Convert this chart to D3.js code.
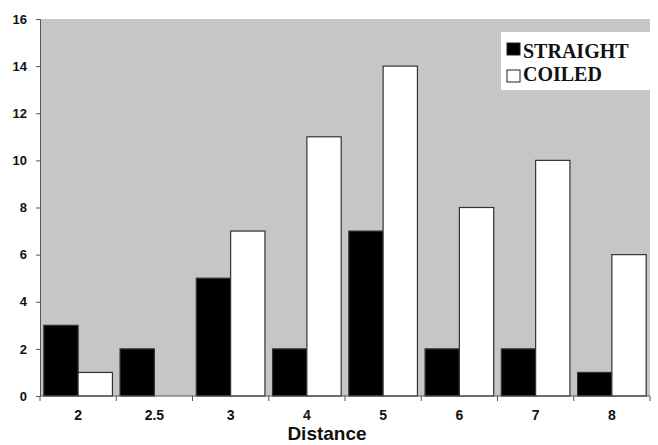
<!DOCTYPE html>
<html>
<head>
<meta charset="utf-8">
<script src="https://cdn.jsdelivr.net/npm/d3@7"></script>
<style>
body { margin: 0; background: #fff; }
</style>
</head>
<body>
<div id="chart"></div>
<script>
// chart data
var categories = ["2", "2.5", "3", "4", "5", "6", "7", "8"];
var straight = [3, 2, 5, 2, 7, 2, 2, 1];
var coiled = [1, 0, 7, 11, 14, 8, 10, 6];
var yTicks = [0, 2, 4, 6, 8, 10, 12, 14, 16];
var seriesNames = ["STRAIGHT", "COILED"];
var seriesColors = ["#000000", "#ffffff"];

var width = 658, height = 445;
var margin = {top: 19, right: 8, bottom: 49, left: 40};
var sansFont = "Liberation Sans, Arial, sans-serif";

var svg = d3.select("#chart").append("svg")
    .attr("width", width)
    .attr("height", height);

var x = d3.scaleBand()
    .domain(categories)
    .range([margin.left, width - margin.right])
    .paddingInner(0.1)
    .paddingOuter(0.05);

var x1 = d3.scaleBand()
    .domain(seriesNames)
    .range([0, x.bandwidth()]);

var y = d3.scaleLinear()
    .domain([0, 16])
    .range([height - margin.bottom, margin.top]);

// gray plot area
svg.append("rect")
    .attr("x", margin.left)
    .attr("y", margin.top)
    .attr("width", width - margin.right - margin.left)
    .attr("height", height - margin.bottom - margin.top)
    .attr("fill", "#c6c6c6");

var rows = categories.map(function(c, i) {
    return {cat: c, values: [straight[i], coiled[i]]};
});

var groups = svg.selectAll(".grp")
    .data(rows)
    .enter().append("g")
    .attr("transform", function(d) { return "translate(" + x(d.cat) + ",0)"; });

groups.selectAll("rect")
    .data(function(d) { return d.values.map(function(v, j) { return {name: seriesNames[j], value: v, j: j}; }); })
    .enter().append("rect")
    .filter(function(d) { return d.value > 0; })
    .attr("x", function(d) { return x1(d.name); })
    .attr("y", function(d) { return y(d.value); })
    .attr("width", x1.bandwidth())
    .attr("height", function(d) { return y(0) - y(d.value); })
    .attr("fill", function(d) { return seriesColors[d.j]; })
    .attr("stroke", "#333")
    .attr("stroke-width", 1.2);

// y axis
svg.append("g")
    .attr("transform", "translate(" + margin.left + ",0)")
    .call(d3.axisLeft(y).tickValues(yTicks).tickSize(4).tickPadding(9))
    .call(function(g) {
        g.selectAll("line, path").attr("stroke", "#555");
        g.selectAll("text")
            .style("font-family", sansFont)
            .style("font-weight", "bold")
            .style("font-size", "13px")
            .attr("fill", "#111");
    });

// x axis with ticks between categories
var xAxis = svg.append("g")
    .attr("transform", "translate(0," + y(0) + ")");
xAxis.append("line")
    .attr("x1", margin.left).attr("x2", width - margin.right)
    .attr("stroke", "#555");
var step = x.step();
var bounds = categories.map(function(c) { return x(c) - step * x.paddingInner() / 2; });
bounds.push(width - margin.right);
xAxis.selectAll(".sep")
    .data(bounds)
    .enter().append("line")
    .attr("x1", function(d) { return d; })
    .attr("x2", function(d) { return d; })
    .attr("y2", 5)
    .attr("stroke", "#555");
xAxis.selectAll(".lbl")
    .data(categories)
    .enter().append("text")
    .attr("x", function(d) { return x(d) + x.bandwidth() / 2; })
    .attr("y", 24)
    .attr("text-anchor", "middle")
    .style("font-family", sansFont)
    .style("font-weight", "bold")
    .style("font-size", "14px")
    .attr("fill", "#111")
    .text(function(d) { return d; });

// axis title
svg.append("text")
    .attr("x", 327)
    .attr("y", 440)
    .attr("text-anchor", "middle")
    .style("font-family", sansFont)
    .style("font-weight", "bold")
    .style("font-size", "19px")
    .attr("fill", "#111")
    .text("Distance");

// legend
var legend = svg.append("g");
legend.append("rect")
    .attr("x", 501).attr("y", 32)
    .attr("width", 149).attr("height", 58)
    .attr("fill", "#fff");
seriesNames.forEach(function(name, i) {
    legend.append("rect")
        .attr("x", 507).attr("y", 43 + i * 27)
        .attr("width", 13).attr("height", 12)
        .attr("fill", seriesColors[i])
        .attr("stroke", "#222")
        .attr("stroke-width", 1);
    legend.append("text")
        .attr("x", 523).attr("y", 58 + i * 23)
        .style("font-family", "Liberation Serif, Times New Roman, serif")
        .style("font-weight", "bold")
        .style("font-size", "20px")
        .attr("fill", "#111")
        .text(name);
});
</script>
</body>
</html>
